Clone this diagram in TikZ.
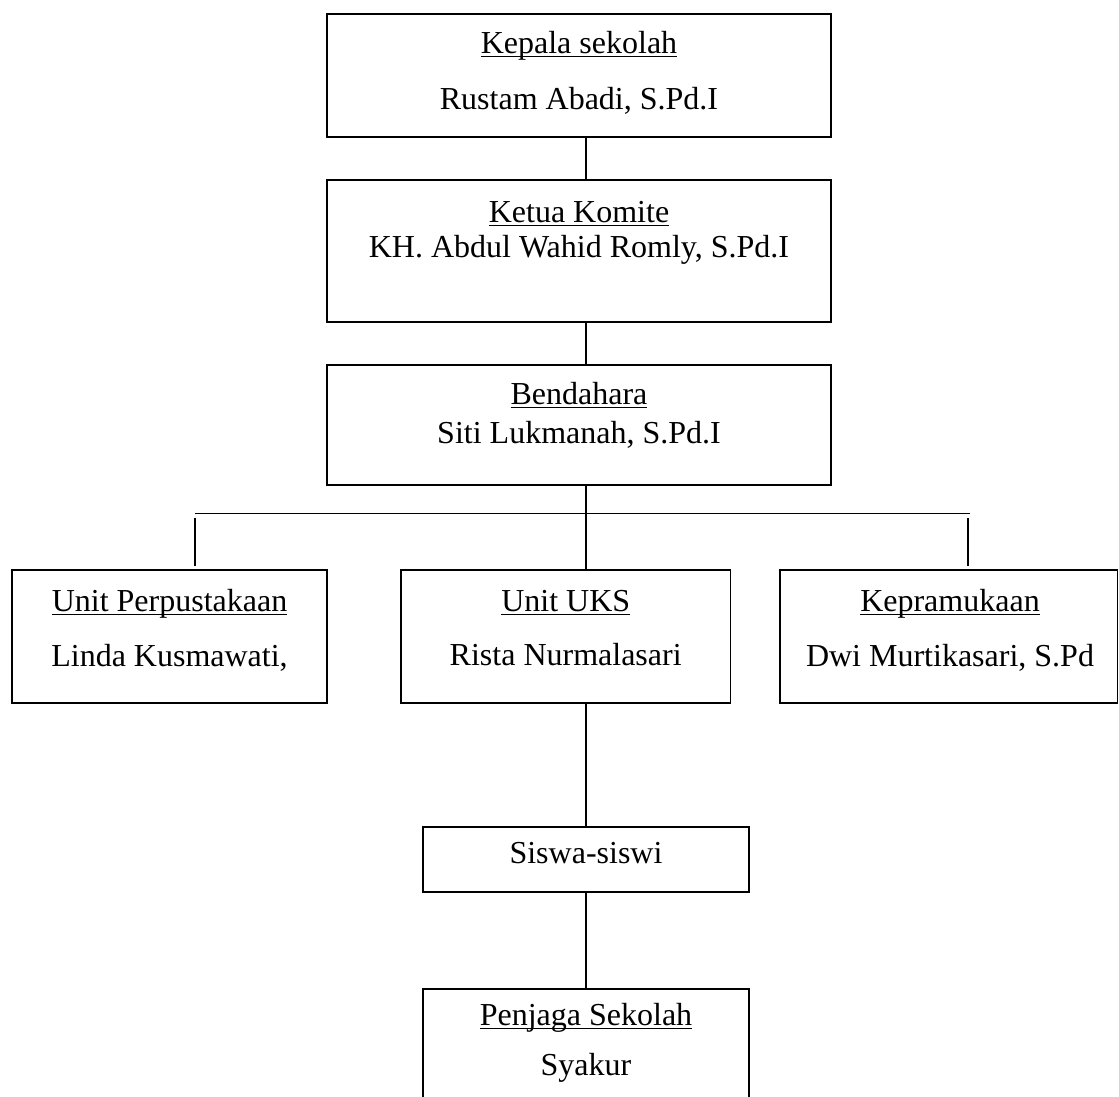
\documentclass[tikz,border=0pt]{standalone}
\usepackage{fontspec}
\setmainfont{Liberation Serif}
\usetikzlibrary{calc}
\newcommand{\garis}[1]{\underline{\smash{#1}}}
\tikzset{
    kotak/.style 2 args={draw, line width=0.9pt, inner sep=0pt,
        minimum width=#1*0.5pt, minimum height=#2*0.5pt},
    teks/.style={anchor=base, inner sep=0pt, font=\fontsize{16}{19}\selectfont},
    hubung/.style={line width=0.9pt},
}

\begin{document}
\begin{tikzpicture}[x=0.5pt, y=-0.5pt]
    \path[use as bounding box, fill=white] (0,0) rectangle (1119,1097);
    \clip (0,0) rectangle (1119,1097);
    % kotak pengurus
    \node[kotak={504}{123}] (kepsek) at (579,75.5) {};
    \node[kotak={504}{142}] (komite) at (579,251) {};
    \node[kotak={504}{120}] (bendahara) at (579,425) {};
    \node[kotak={315.6}{132.7}] (perpus) at (169.5,636.3) {};
    \node[kotak={329.5}{132.7}] (uks) at (565.7,636.3) {};
    \node[kotak={337.5}{132.7}] (pramuka) at (948.75,636.3) {};
    \node[kotak={326}{65}] (siswa) at (586,859.5) {};
    \node[kotak={326}{135}] (penjaga) at (586,1056.5) {};
    % isi kotak
    \node[teks] (kepsek-j) at (579,53.3) {\garis{Kepala sekolah}};
    \node[teks] (kepsek-n) at (579,109.3) {Rustam Abadi, S.Pd.I};
    \node[teks] (komite-j) at (579,222.7) {\garis{Ketua Komite}};
    \node[teks] (komite-n) at (579,257.7) {KH. Abdul Wahid Romly, S.Pd.I};
    \node[teks] (bendahara-j) at (579,404.5) {\garis{Bendahara}};
    \node[teks] (bendahara-n) at (579,443) {Siti Lukmanah, S.Pd.I};
    \node[teks] (perpus-j) at (169.5,611.5) {\garis{Unit Perpustakaan}};
    \node[teks] (perpus-n) at (169.5,666) {Linda Kusmawati,};
    \node[teks] (uks-j) at (565.7,611.5) {\garis{Unit UKS}};
    \node[teks] (uks-n) at (565.7,665) {Rista Nurmalasari};
    \node[teks] (pramuka-j) at (950,611.5) {\garis{Kepramukaan}};
    \node[teks] (pramuka-n) at (950,666) {Dwi Murtikasari, S.Pd};
    \node[teks] (siswa-n) at (586,863.3) {Siswa-siswi};
    \node[teks] (penjaga-j) at (586,1025.5) {\garis{Penjaga Sekolah}};
    \node[teks] (penjaga-n) at (586,1075) {Syakur};
    % garis penghubung
    \coordinate (tengah) at (585.7,0);
    \coordinate (kiri) at (195,513.5);
    \coordinate (kanan) at (970,513.5);
    \draw[hubung] (kepsek.south -| tengah) -- (komite.north -| tengah);
    \draw[hubung] (komite.south -| tengah) -- (bendahara.north -| tengah);
    \draw[hubung] (bendahara.south -| tengah) -- (uks.north -| tengah);
    \draw[hubung] (kiri) -- (kanan);
    \draw[hubung] ([yshift=-2.25pt]kiri) -- ([yshift=1.5pt]perpus.north -| kiri);
    \draw[hubung] ([shift={(-1pt,-2.25pt)}]kanan) -- ([shift={(-1pt,1.5pt)}]pramuka.north -| kanan);
    \draw[hubung] (uks.south -| tengah) -- (siswa.north -| tengah);
    \draw[hubung] (siswa.south -| tengah) -- (penjaga.north -| tengah);
\end{tikzpicture}
\end{document}
